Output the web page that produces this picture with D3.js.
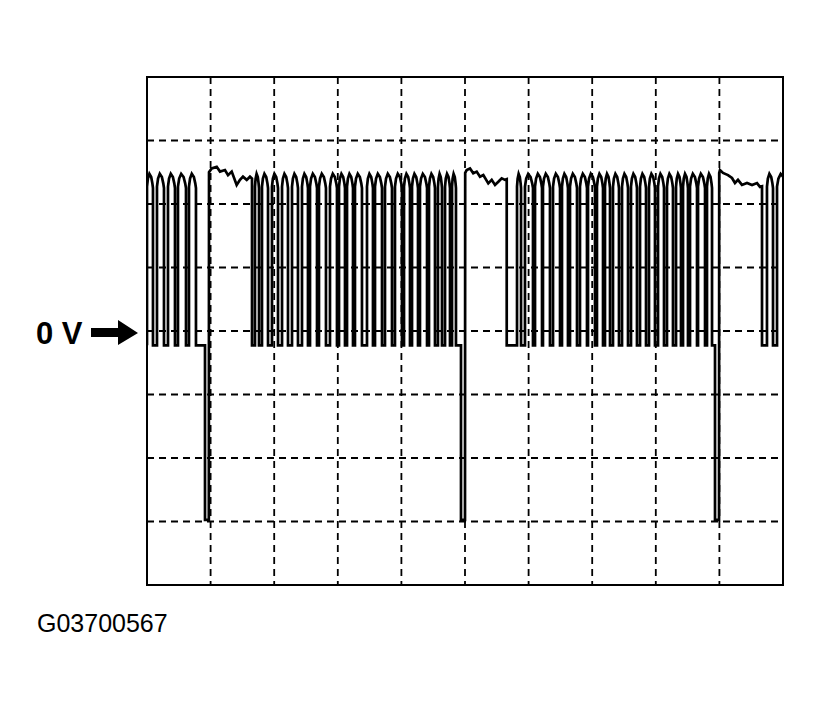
<!DOCTYPE html>
<html>
<head>
<meta charset="utf-8">
<script src="https://cdn.jsdelivr.net/npm/d3@7"></script>
<style>
  html, body { margin: 0; padding: 0; background: #fff; }
  svg { display: block; }
</style>
</head>
<body>
<div id="chart"></div>
<script>
// ---- Data (time in divisions/ms, value in volts, 2 V/div) ----
const timeDomain = [0, 10];
const voltDomain = [-8, 8];
const timeGrid = [1, 2, 3, 4, 5, 6, 7, 8, 9];
const voltGrid = [-6, -4, -2, 0, 2, 4, 6];

const highLevel = 4.85;
const lowLevel = -0.45;
const spikeLevel = -5.95;

// pulses: [rise time, fall time]
const pulsesA = [[0.0, 0.094], [0.157, 0.267], [0.330, 0.440], [0.487, 0.613], [0.660, 0.770]];
const pulsesB = [[1.698, 1.761], [1.808, 1.903], [1.965, 2.060], [2.123, 2.217], [2.280, 2.374],
  [2.437, 2.531], [2.563, 2.673], [2.704, 2.814], [2.877, 2.987], [3.019, 3.113], [3.145, 3.239],
  [3.270, 3.380], [3.459, 3.553], [3.585, 3.695], [3.742, 3.852], [3.899, 4.009], [4.041, 4.135],
  [4.167, 4.261], [4.292, 4.403], [4.434, 4.528], [4.575, 4.638], [4.686, 4.764], [4.796, 4.858]];
const pulsesC = [[5.818, 5.881], [5.943, 6.069], [6.101, 6.211], [6.226, 6.336], [6.384, 6.494],
  [6.525, 6.619], [6.651, 6.761], [6.808, 6.918], [6.934, 7.044], [7.075, 7.170], [7.201, 7.280],
  [7.327, 7.421], [7.469, 7.563], [7.610, 7.704], [7.752, 7.846], [7.893, 7.987], [8.035, 8.129],
  [8.176, 8.270], [8.318, 8.396], [8.428, 8.506], [8.538, 8.648], [8.664, 8.774], [8.805, 8.884]];
const pulsesD = [[9.748, 9.843], [9.906, 10.05]];

// negative spikes: [fall time, rise time]
const spikes = [[0.912, 0.972], [4.937, 5.000], [8.931, 8.994]];

// noisy high plateau after each spike: [time, volts]
const plateauA = [[0.975, 5.00], [1.017, 5.12], [1.096, 5.17], [1.148, 5.02], [1.226, 5.07], [1.274, 4.91],
  [1.332, 5.02], [1.410, 4.60], [1.462, 4.76], [1.509, 4.86], [1.568, 4.76], [1.619, 4.86], [1.651, 4.80]];
const plateauB = [[5.003, 4.98], [5.027, 5.07], [5.079, 5.12], [5.130, 4.97], [5.184, 5.02], [5.236, 4.86],
  [5.288, 4.91], [5.366, 4.65], [5.420, 4.76], [5.472, 4.60], [5.524, 4.70], [5.577, 4.81], [5.629, 4.76], [5.656, 4.78]];
const plateauC = [[8.997, 4.98], [9.009, 5.07], [9.057, 4.98], [9.135, 4.91], [9.198, 4.82], [9.245, 4.66],
  [9.292, 4.76], [9.355, 4.60], [9.434, 4.66], [9.513, 4.60], [9.591, 4.66], [9.638, 4.54], [9.670, 4.56]];

const zeroLabel = "0 V";
const figureId = "G03700567";

// ---- Layout ----
const W = 823, H = 707;
const plot = { left: 147, top: 77, right: 783, bottom: 585 };

const svg = d3.select("#chart").append("svg")
  .attr("width", W).attr("height", H)
  .attr("viewBox", `0 0 ${W} ${H}`);
svg.append("rect").attr("width", W).attr("height", H).attr("fill", "#fff");

const x = d3.scaleLinear().domain(timeDomain).range([plot.left, plot.right]);
const y = d3.scaleLinear().domain(voltDomain).range([plot.bottom, plot.top]);

svg.append("defs").append("clipPath").attr("id", "clip")
  .append("rect")
  .attr("x", plot.left).attr("y", plot.top)
  .attr("width", plot.right - plot.left).attr("height", plot.bottom - plot.top);

// grid
const grid = svg.append("g").attr("stroke", "#000").attr("stroke-width", 1.8)
  .attr("stroke-dasharray", "7,5").attr("fill", "none");
grid.selectAll("line.v").data(timeGrid).join("line").attr("class", "v")
  .attr("x1", d => x(d)).attr("x2", d => x(d))
  .attr("y1", plot.top).attr("y2", plot.bottom);
grid.selectAll("line.h").data(voltGrid).join("line").attr("class", "h")
  .attr("y1", d => y(d)).attr("y2", d => y(d))
  .attr("x1", plot.left).attr("x2", plot.right);

// build waveform points
const pts = [];
function addPulses(pulses) {
  pulses.forEach(([r, f]) => {
    const w = f - r;
    pts.push([r, lowLevel]);
    pts.push([r, highLevel - 0.3]);
    pts.push([r + w * 0.15, highLevel - 0.05]);
    pts.push([r + w * 0.4, highLevel + 0.1]);
    pts.push([r + w * 0.7, highLevel]);
    pts.push([r + w * 0.9, highLevel - 0.2]);
    pts.push([f, highLevel - 0.35]);
    pts.push([f, lowLevel]);
  });
}
function addSpike([a, b]) {
  pts.push([a, lowLevel]);
  pts.push([a, spikeLevel]);
  pts.push([b, spikeLevel]);
}
function addPlateau(p) {
  p.forEach(d => pts.push(d));
  pts.push([p[p.length - 1][0], lowLevel]);
}

addPulses(pulsesA);
addSpike(spikes[0]);
addPlateau(plateauA);
addPulses(pulsesB);
addSpike(spikes[1]);
addPlateau(plateauB);
addPulses(pulsesC);
addSpike(spikes[2]);
addPlateau(plateauC);
addPulses(pulsesD);

const line = d3.line().x(d => x(d[0])).y(d => y(d[1]));
svg.append("path")
  .datum(pts)
  .attr("clip-path", "url(#clip)")
  .attr("fill", "none")
  .attr("stroke", "#000")
  .attr("stroke-width", 2.7)
  .attr("stroke-linejoin", "miter")
  .attr("d", line);

// frame
svg.append("rect")
  .attr("x", plot.left).attr("y", plot.top)
  .attr("width", plot.right - plot.left).attr("height", plot.bottom - plot.top)
  .attr("fill", "none").attr("stroke", "#000").attr("stroke-width", 2);

// 0 V label + arrow
const y0 = y(0);
svg.append("text")
  .attr("x", 36).attr("y", y0 + 13)
  .attr("font-family", "'Liberation Sans', Arial, sans-serif")
  .attr("font-weight", "bold").attr("font-size", 31)
  .attr("fill", "#000")
  .text(zeroLabel);
const ax = 91, tip = 138;
svg.append("path")
  .attr("d", `M${ax},${y0 - 3} L${tip - 20},${y0 - 3} L${tip - 20},${y0 - 11} L${tip},${y0 + 2} L${tip - 20},${y0 + 14} L${tip - 20},${y0 + 6} L${ax},${y0 + 6} Z`)
  .attr("fill", "#000");

// figure id
svg.append("text")
  .attr("x", 37).attr("y", 632)
  .attr("font-family", "'Liberation Sans', Arial, sans-serif")
  .attr("font-size", 25)
  .attr("fill", "#000")
  .text(figureId);
</script>
</body>
</html>
